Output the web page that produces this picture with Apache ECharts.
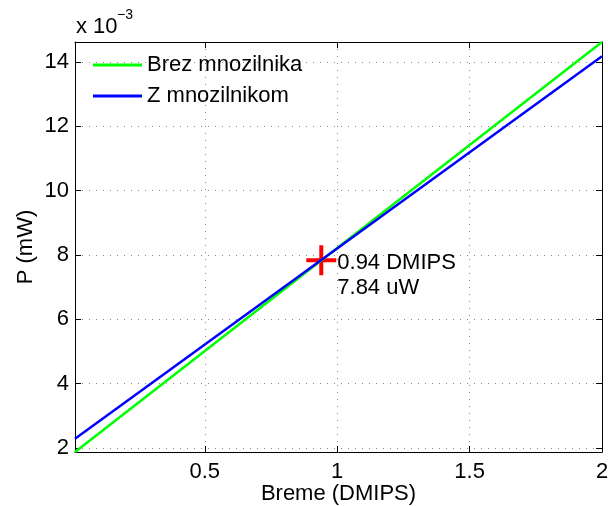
<!DOCTYPE html>
<html>
<head>
<meta charset="utf-8">
<script src="https://cdn.jsdelivr.net/npm/echarts@6/dist/echarts.min.js"></script>
<style>
  html, body { margin: 0; padding: 0; background: #fff; }
</style>
</head>
<body>
<div id="chart" style="width:608px;height:506px;"></div>
<script>
// Breme (DMIPS) na x osi, moc v enotah 10^-3 mW na y osi
const xRange = [0.01, 2]
const brezMnozilnika = [1.876, 14.62]   // vrednosti pri xRange[0], xRange[1]
const zMnozilnikom = [2.29, 14.18]
const presecisce = [0.94, 7.84]
const xTicks = [0.5, 1, 1.5, 2]
const yTicks = [2, 4, 6, 8, 10, 12, 14]
const yRange = [1.876, 14.62]

const font = 'Liberation Sans, Arial, sans-serif'
const fs = 22

const chart = echarts.init(document.getElementById('chart'))

const gridLine = { show: true, lineStyle: { color: '#8a8a8a', type: [1, 6], width: 1 } }
const axLine = { show: true, onZero: false, lineStyle: { color: '#000', width: 1 } }
const tick = (vals) => ({ show: true, inside: true, length: 6, customValues: vals, lineStyle: { color: '#000' } })

const option = {
  animation: false,
  textStyle: { fontFamily: font },
  grid: { left: 75, right: 6, top: 42, bottom: 54, outerBoundsMode: 'none', containLabel: false },
  legend: {
    orient: 'vertical',
    left: 93,
    top: 54,
    padding: 0,
    icon: 'rect',
    itemWidth: 49,
    itemHeight: 3,
    itemGap: 9,
    textStyle: { fontSize: fs, color: '#000', fontFamily: font },
    data: ['Brez mnozilnika', 'Z mnozilnikom']
  },
  xAxis: [
    {
      type: 'value', min: xRange[0], max: xRange[1], position: 'bottom',
      name: 'Breme (DMIPS)', nameLocation: 'middle', nameGap: 31, nameMoveOverlap: false,
      nameTextStyle: { fontSize: fs, color: '#000' },
      axisLine: axLine, axisTick: tick(xTicks), splitLine: gridLine,
      axisLabel: { customValues: xTicks, fontSize: fs, color: '#000', margin: 9 }
    },
    {
      type: 'value', min: xRange[0], max: xRange[1], position: 'top',
      axisLine: axLine, axisTick: tick(xTicks), splitLine: { show: false },
      axisLabel: { show: false }
    }
  ],
  yAxis: [
    {
      type: 'value', min: yRange[0], max: yRange[1], position: 'left',
      name: 'P (mW)', nameLocation: 'middle', nameGap: 38, nameMoveOverlap: false,
      nameTextStyle: { fontSize: fs, color: '#000' },
      axisLine: axLine, axisTick: tick(yTicks), splitLine: gridLine,
      axisLabel: { customValues: yTicks, fontSize: fs, color: '#000', margin: 6 }
    },
    {
      type: 'value', min: yRange[0], max: yRange[1], position: 'right',
      axisLine: axLine, axisTick: tick(yTicks), splitLine: { show: false },
      axisLabel: { show: false }
    }
  ],
  series: [
    {
      name: 'Brez mnozilnika', type: 'line', showSymbol: false,
      lineStyle: { color: '#00ff00', width: 2.5 }, itemStyle: { color: '#00ff00' },
      data: xRange.map((x, i) => [x, brezMnozilnika[i]])
    },
    {
      name: 'Z mnozilnikom', type: 'line', showSymbol: false,
      lineStyle: { color: '#0000ff', width: 2.5 }, itemStyle: { color: '#0000ff' },
      data: xRange.map((x, i) => [x, zMnozilnikom[i]])
    },
    {
      name: 'tocka', type: 'scatter',
      symbol: 'path://M-2,-15H2V15H-2Z M-15,-2H15V2H-15Z',
      symbolSize: 30,
      itemStyle: { color: '#ff0000', opacity: 1 },
      label: {
        show: true, position: 'right', distance: 1, offset: [0, 15],
        fontSize: fs, color: '#000', opacity: 1, lineHeight: 25, align: 'left',
        formatter: presecisce[0] + ' DMIPS\n' + presecisce[1] + ' uW'
      },
      data: [presecisce]
    }
  ],
  graphic: [
    { type: 'text', left: 76, top: 16, style: { text: 'x 10', fontSize: fs, fontFamily: font, fill: '#000' } },
    { type: 'text', left: 117, top: 8, style: { text: '\u22123', fontSize: 14, fontFamily: font, fill: '#000' } }
  ]
}
chart.setOption(option)
</script>
</body>
</html>
